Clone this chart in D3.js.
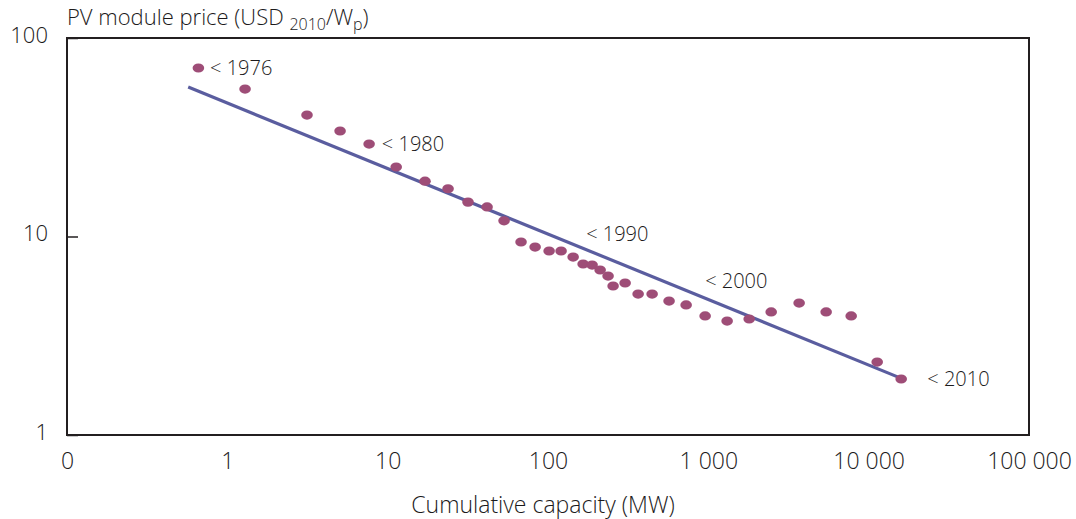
<!DOCTYPE html>
<html>
<head>
<meta charset="utf-8">
<script src="https://cdn.jsdelivr.net/npm/d3@7"></script>
<style>
  body { margin:0; background:#fff; }
  text { font-family: "Open Sans", Lato, sans-serif; font-weight:300; fill:#1c1a1b; }
</style>
</head>
<body>
<svg id="chart" width="1076" height="519"></svg>
<script>
// cumulative capacity (MW) and module price (USD2010/Wp)
var capacity = [0.66, 1.29, 3.14, 5.05, 7.66, 11.3, 17.1, 23.8, 31.7, 41.7, 53.2,
                67.9, 83.1, 101.6, 120.7, 143.5, 165.6, 188.4, 211.4, 237, 254.7,
                302.7, 364.8, 446, 569, 727, 955, 1310, 1798, 2466, 3683, 5431,
                7778, 11300, 15950];
var price = [70.6, 55.3, 40.9, 34.0, 29.2, 22.4, 19.0, 17.4, 14.9, 14.1, 12.0,
             9.38, 8.85, 8.45, 8.45, 7.88, 7.27, 7.18, 6.78, 6.32, 5.63,
             5.83, 5.13, 5.13, 4.73, 4.52, 3.98, 3.75, 3.84, 4.17, 4.62, 4.17,
             3.98, 2.33, 1.915];

// experience curve (fitted line) end points
var trendCapacity = [0.57, 15700];
var trendPrice = [56.6, 1.94];

// year labels
var yearLabels = ["< 1976", "< 1980", "< 1990", "< 2000", "< 2010"];
var yearCapacity = [0.78, 9.2, 173, 955, 23200];
var yearPrice = [70.6, 29.2, 10.3, 5.97, 1.915];

var xTicks = [0.1, 1, 10, 100, 1000, 10000, 100000];
var xTickLabels = ["0", "1", "10", "100", "1 000", "10 000", "100 000"];
var yTicks = [1, 10, 100];
var yTickLabels = ["1", "10", "100"];

var mLeft=67, mRight=1029, mTop=38, mBottom=435;
var svg = d3.select("#chart");

var x = d3.scaleLog().domain([0.1, 100000]).range([mLeft, mRight]);
var y = d3.scaleLog().domain([1, 100]).range([mBottom, mTop]);

// x axis labels
var xAxis = d3.axisBottom(x)
      .tickValues(xTicks)
      .tickSize(0)
      .tickPadding(18)
      .tickFormat(function(d,i) { return xTickLabels[i]; });
var gx = svg.append("g").attr("transform","translate(0,"+mBottom+")").call(xAxis);
gx.select(".domain").remove();
gx.attr("font-family",null).attr("font-size",null);
gx.selectAll("text").style("font-size","23px").attr("fill","#1c1a1b");

// y axis with inward ticks
var yAxis = d3.axisLeft(y)
      .tickValues(yTicks)
      .tickSizeInner(-11)
      .tickSizeOuter(0)
      .tickPadding(19)
      .tickFormat(function(d,i) { return yTickLabels[i]; });
var gy = svg.append("g").attr("transform","translate("+mLeft+",0)").call(yAxis);
gy.select(".domain").remove();
gy.attr("font-family",null).attr("font-size",null);
gy.selectAll("line").attr("stroke","#231f20").attr("stroke-width",1.5);
gy.selectAll("text").style("font-size","22px")
   .attr("fill","#1c1a1b").attr("dy","0.2em");

// frame
svg.append("rect")
   .attr("x",mLeft).attr("y",mTop)
   .attr("width",mRight-mLeft).attr("height",mBottom-mTop)
   .attr("fill","none").attr("stroke","#231f20").attr("stroke-width",2);

// trend line
var line = d3.line()
      .x(function(d) { return x(d[0]); })
      .y(function(d) { return y(d[1]); });
svg.append("path")
   .attr("d", line(d3.zip(trendCapacity, trendPrice)))
   .attr("stroke","#5a5d9f").attr("stroke-width",3.2).attr("fill","none");

// data points
svg.append("g").selectAll("ellipse")
   .data(d3.zip(capacity, price))
   .enter().append("ellipse")
   .attr("cx", function(d) { return x(d[0]); })
   .attr("cy", function(d) { return y(d[1]); })
   .attr("rx", 5.8).attr("ry", 4.6)
   .attr("fill","#9e4d77");

// year labels
svg.append("g").selectAll("text")
   .data(yearLabels)
   .enter().append("text")
   .attr("x", function(d,i) { return x(yearCapacity[i]); })
   .attr("y", function(d,i) { return y(yearPrice[i]); })
   .attr("dy","0.33em")
   .style("font-size","20px")
   .text(function(d) { return d; });

// axis titles
var t = svg.append("text").attr("x",67).attr("y",25).style("font-size","22px");
t.append("tspan").text("PV module price (USD ");
t.append("tspan").attr("dy",5).style("font-size","16px").text("2010");
t.append("tspan").attr("dy",-5).text("/W");
t.append("tspan").attr("dy",5).style("font-size","16px").text("p");
t.append("tspan").attr("dy",-5).text(")");

svg.append("text")
   .attr("x",(mLeft+mRight)/2 - 5).attr("y",513)
   .attr("text-anchor","middle")
   .style("font-size","23px")
   .text("Cumulative capacity (MW)");
</script>
</body>
</html>
